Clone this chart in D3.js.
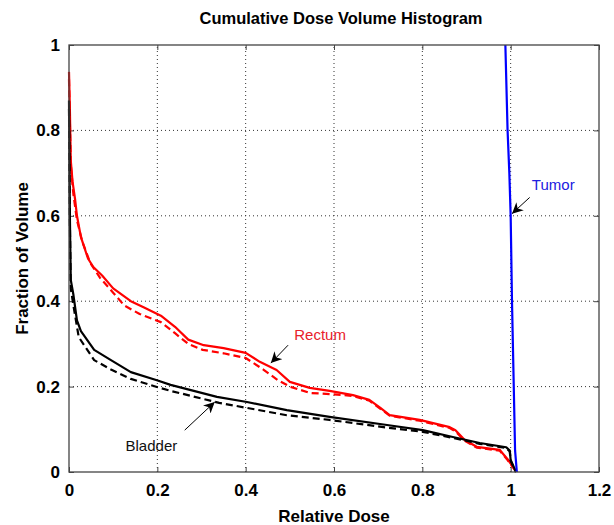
<!DOCTYPE html>
<html>
<head>
<meta charset="utf-8">
<script src="https://cdn.jsdelivr.net/npm/d3@7"></script>
<style>
body { margin: 0; background: #fff; }
svg { font-family: Arial, 'Liberation Sans', sans-serif; }
</style>
</head>
<body>
<div id="container"></div>
<script>
// x ticks, y ticks
var xTicks = [0, 0.2, 0.4, 0.6, 0.8, 1, 1.2]
var yTicks = [0, 0.2, 0.4, 0.6, 0.8, 1]

// curves, [relative dose, fraction of volume]
var rectumSolid = [[0,0.937],[0.002,0.85],[0.004,0.73],[0.008,0.68],[0.014,0.637],[0.018,0.6],[0.027,0.55],[0.043,0.5],[0.055,0.48],[0.075,0.46],[0.1,0.43],[0.14,0.4],[0.17,0.385],[0.208,0.366],[0.24,0.34],[0.27,0.31],[0.305,0.297],[0.35,0.29],[0.4,0.279],[0.432,0.258],[0.47,0.239],[0.5,0.211],[0.545,0.197],[0.59,0.19],[0.643,0.18],[0.68,0.169],[0.705,0.15],[0.726,0.133],[0.794,0.122],[0.862,0.105],[0.875,0.098],[0.896,0.075],[0.923,0.059],[0.975,0.052],[0.993,0.03],[1.013,0]]
var rectumDashed = [[0,0.92],[0.004,0.72],[0.01,0.65],[0.018,0.59],[0.03,0.54],[0.048,0.49],[0.07,0.455],[0.1,0.42],[0.125,0.39],[0.16,0.37],[0.208,0.351],[0.24,0.325],[0.27,0.3],[0.303,0.286],[0.35,0.278],[0.4,0.267],[0.44,0.24],[0.473,0.215],[0.5,0.2],[0.546,0.185],[0.6,0.182],[0.643,0.178],[0.68,0.167],[0.705,0.148],[0.726,0.132],[0.794,0.12],[0.862,0.103],[0.875,0.095],[0.896,0.073],[0.923,0.057],[0.975,0.05],[0.993,0.028],[1.013,0]]
var bladderSolid = [[0,0.87],[0.002,0.6],[0.004,0.45],[0.01,0.415],[0.018,0.355],[0.027,0.33],[0.057,0.286],[0.095,0.262],[0.14,0.234],[0.199,0.215],[0.23,0.204],[0.335,0.176],[0.403,0.164],[0.493,0.145],[0.59,0.129],[0.72,0.11],[0.801,0.098],[0.869,0.082],[0.93,0.068],[0.99,0.058],[0.998,0.05],[1.0,0.028],[1.01,0.005],[1.012,0]]
var bladderDashed = [[0,0.85],[0.002,0.58],[0.004,0.43],[0.01,0.39],[0.022,0.316],[0.057,0.262],[0.095,0.24],[0.14,0.218],[0.199,0.199],[0.23,0.19],[0.34,0.162],[0.493,0.133],[0.59,0.122],[0.72,0.104],[0.801,0.094],[0.869,0.08],[0.93,0.066],[0.99,0.056],[0.998,0.048],[1.0,0.026],[1.01,0.004],[1.012,0]]
var tumor = [[0.988,1],[0.993,0.8],[0.997,0.7],[1.0,0.6],[1.003,0.4],[1.007,0.2],[1.01,0.05],[1.014,0]]

// labels: text, dose/volume of text, arrow start and tip
var notes = [
	{text:'Rectum', color:'#e8202a', at:[0.51,0.31], from:[0.496,0.297], to:[0.457,0.255]},
	{text:'Bladder', color:'#111', at:[0.128,0.05], from:[0.262,0.098], to:[0.33,0.164]},
	{text:'Tumor', color:'#2020e0', at:[1.048,0.66], from:[1.043,0.643], to:[1.003,0.605]}
]

var W = 614, H = 525
var margin = {left:69, right:15, top:45, bottom:53}

var svg = d3.select('#container').append('svg').attr('width', W).attr('height', H)

var x = d3.scaleLinear().domain([0, 1.2]).range([margin.left, W - margin.right])
var y = d3.scaleLinear().domain([0, 1]).range([H - margin.bottom, margin.top])

// grid
svg.append('g').selectAll('line').data(xTicks.slice(1, -1)).enter().append('line')
	.attr('x1', function(d) {return x(d)}).attr('x2', function(d) {return x(d)})
	.attr('y1', y(0)).attr('y2', y(1))
	.attr('stroke', '#333').attr('stroke-width', 1).attr('stroke-dasharray', '1,3')
svg.append('g').selectAll('line').data(yTicks.slice(1, -1)).enter().append('line')
	.attr('y1', function(d) {return y(d)}).attr('y2', function(d) {return y(d)})
	.attr('x1', x(0)).attr('x2', x(1.2))
	.attr('stroke', '#333').attr('stroke-width', 1).attr('stroke-dasharray', '1,3')

// axes, ticks pointing in
var ax = function(g) {g.select('.domain').remove(); g.selectAll('line').attr('stroke', '#444')}
var fmt = function(d) {return d3.format('~g')(d)}
svg.append('g').attr('transform', 'translate(0,' + y(0) + ')')
	.call(d3.axisBottom(x).tickValues(xTicks).tickSize(-5).tickPadding(12).tickFormat(fmt)).call(ax)
svg.append('g').attr('transform', 'translate(0,' + y(1) + ')')
	.call(d3.axisTop(x).tickValues(xTicks).tickSize(-5).tickFormat('')).call(ax)
svg.append('g').attr('transform', 'translate(' + x(0) + ',0)')
	.call(d3.axisLeft(y).tickValues(yTicks).tickSize(-5).tickPadding(9).tickFormat(fmt)).call(ax)
svg.append('g').attr('transform', 'translate(' + x(1.2) + ',0)')
	.call(d3.axisRight(y).tickValues(yTicks).tickSize(-5).tickFormat('')).call(ax)
svg.selectAll('.tick text').attr('font-size', 17).attr('font-weight', 'bold')
	.attr('font-family', 'Arial, Liberation Sans, sans-serif').attr('fill', '#000')

// curves
var line = d3.line().x(function(d) {return x(d[0])}).y(function(d) {return y(d[1])})
var curves = [
	{data:rectumSolid, color:'#f00', dash:null},
	{data:rectumDashed, color:'#f00', dash:'7,4'},
	{data:bladderSolid, color:'#000', dash:null},
	{data:bladderDashed, color:'#000', dash:'7,4'},
	{data:tumor, color:'#0000ff', dash:null}
]
svg.append('g').selectAll('path').data(curves).enter().append('path')
	.attr('d', function(c) {return line(c.data)})
	.attr('fill', 'none').attr('stroke', function(c) {return c.color})
	.attr('stroke-width', 2.2).attr('stroke-linejoin', 'round')
	.attr('stroke-dasharray', function(c) {return c.dash})

// box
svg.append('rect').attr('x', x(0)).attr('y', y(1))
	.attr('width', x(1.2) - x(0)).attr('height', y(0) - y(1))
	.attr('fill', 'none').attr('stroke', '#444').attr('stroke-width', 1.3)

// notes with arrows
svg.append('defs').append('marker').attr('id', 'head')
	.attr('viewBox', '0 0 10 10').attr('refX', 10).attr('refY', 5)
	.attr('markerWidth', 11).attr('markerHeight', 11).attr('markerUnits', 'userSpaceOnUse')
	.attr('orient', 'auto')
	.append('path').attr('d', 'M0,0L10,5L0,10L3,5Z').attr('fill', '#000')
var n = svg.append('g').selectAll('g').data(notes).enter().append('g')
n.append('text').attr('x', function(d) {return x(d.at[0])}).attr('y', function(d) {return y(d.at[1])})
	.attr('font-size', 15).attr('fill', function(d) {return d.color}).text(function(d) {return d.text})
n.append('line')
	.attr('x1', function(d) {return x(d.from[0])}).attr('y1', function(d) {return y(d.from[1])})
	.attr('x2', function(d) {return x(d.to[0])}).attr('y2', function(d) {return y(d.to[1])})
	.attr('stroke', '#000').attr('stroke-width', 1).attr('marker-end', 'url(#head)')

// titles
svg.append('text').attr('x', 341).attr('y', 24).attr('text-anchor', 'middle')
	.attr('font-size', 16.5).attr('font-weight', 'bold').text('Cumulative Dose Volume Histogram')
svg.append('text').attr('x', (x(0) + x(1.2)) / 2).attr('y', 522).attr('text-anchor', 'middle')
	.attr('font-size', 17).attr('font-weight', 'bold').text('Relative Dose')
svg.append('text').attr('transform', 'translate(28,' + (y(0.5)) + ') rotate(-90)').attr('text-anchor', 'middle')
	.attr('font-size', 17).attr('font-weight', 'bold').text('Fraction of Volume')
</script>
</body>
</html>
